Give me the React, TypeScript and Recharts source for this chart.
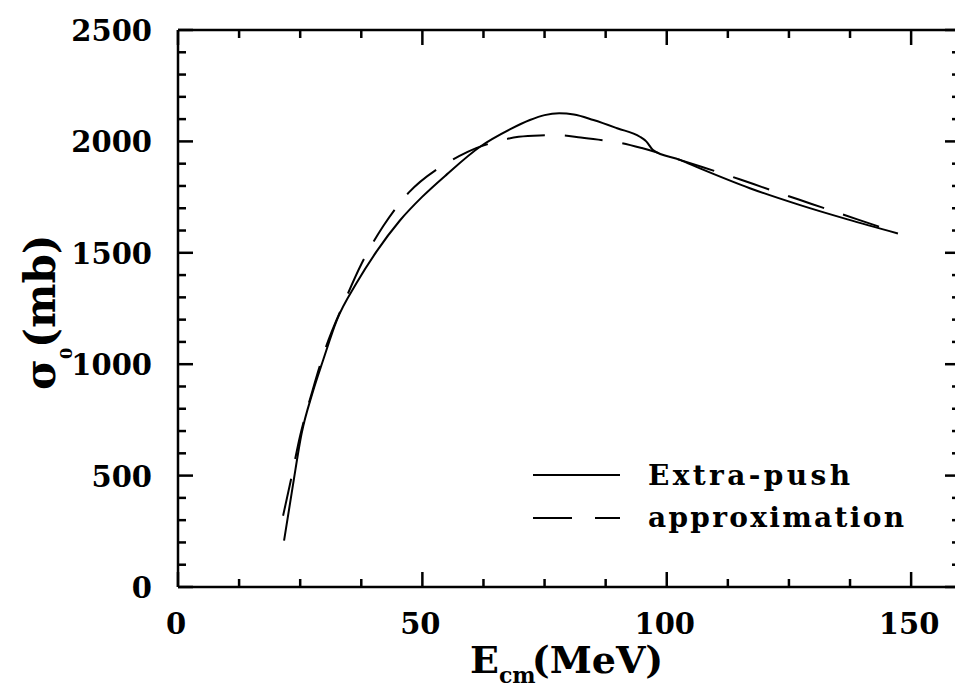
import { LineChart, Line, XAxis, YAxis, Legend } from "recharts";

// Extra-push cross section (solid)
const extraPushEnergy = [21.7, 23.5, 25.3, 27.5, 29.7, 32.5, 36.5, 40.6, 45.4, 50, 55, 61.8, 68, 72, 75, 78, 81, 85, 90, 94.5, 95.8, 97.2, 102.7, 106.8, 117, 127.3, 137, 147.3];
const extraPushSigma = [208, 455, 690, 870, 1019, 1198, 1363, 1505, 1645, 1752, 1852, 1976, 2055, 2096, 2118, 2126, 2121, 2096, 2058, 2021, 2000, 1961, 1917, 1879, 1790, 1714, 1650, 1587];

// approximation (dashed)
const approxEnergy = [21.5, 23, 25, 27.5, 30, 34.2, 37.6, 42, 47.2, 53.6, 57.5, 61, 65.2, 69.7, 74, 77.7, 82.4, 86, 90.4, 94.9, 102.7, 107.4, 114.9, 119.4, 127, 131.6, 139, 147.2];
const approxSigma = [320, 470, 680, 880, 1060, 1288, 1453, 1620, 1770, 1884, 1934, 1970, 1999, 2021, 2027, 2028, 2018, 2008, 1994, 1970, 1917, 1884, 1830, 1796, 1739, 1705, 1650, 1590];

const seriesNames = ["Extra-push", "approximation"];

const xTicks = [0, 12.5, 25, 37.5, 50, 62.5, 75, 87.5, 100, 112.5, 125, 137.5, 150];
const xLabeled = [0, 50, 100, 150];
const yTicks = [0, 100, 200, 300, 400, 500, 600, 700, 800, 900, 1000, 1100, 1200, 1300, 1400, 1500, 1600, 1700, 1800, 1900, 2000, 2100, 2200, 2300, 2400, 2500];
const yLabeled = [0, 500, 1000, 1500, 2000, 2500];

const extraPushData = extraPushEnergy.map((e, i) => ({ energy: e, sigma: extraPushSigma[i] }));
const approxData = approxEnergy.map((e, i) => ({ energy: e, sigma: approxSigma[i] }));

const FONT = "'DejaVu Serif', serif";

function BottomTick({ x, y, payload }: any) {
  const major = xLabeled.includes(payload.value);
  return (
    <g>
      <line x1={x} x2={x} y1={y} y2={y - (major ? 15 : 8)} stroke="#000" strokeWidth={2.5} />
      {major && (
        <text x={x - 2} y={y + 47} textAnchor="middle" fontFamily={FONT} fontWeight="bold" fontSize={29} fill="#000">
          {payload.value}
        </text>
      )}
    </g>
  );
}

function TopTick({ x, y, payload }: any) {
  const major = xLabeled.includes(payload.value);
  return <line x1={x} x2={x} y1={y} y2={y + (major ? 15 : 8)} stroke="#000" strokeWidth={2.5} />;
}

function LeftTick({ x, y, payload }: any) {
  const major = yLabeled.includes(payload.value);
  return (
    <g>
      <line x1={x} x2={x + (major ? 15 : 8)} y1={y} y2={y} stroke="#000" strokeWidth={2.5} />
      {major && (
        <text x={x - 26} y={y + 11} textAnchor="end" fontFamily={FONT} fontWeight="bold" fontSize={29} fill="#000">
          {payload.value}
        </text>
      )}
    </g>
  );
}

function RightTick({ x, y, payload }: any) {
  const major = yLabeled.includes(payload.value);
  return <line x1={x} x2={x - (major ? 15 : 8)} y1={y} y2={y} stroke="#000" strokeWidth={2.5} />;
}

function XTitle({ viewBox }: any) {
  const x = viewBox.x + 292;
  const y = viewBox.y + 86;
  return (
    <text x={x} y={y} fontFamily={FONT} fontWeight="bold" fontSize={38} fill="#000">
      E
      <tspan fontSize={22} dy={10}>cm</tspan>
      <tspan dx={-4} dy={-10}>(MeV)</tspan>
    </text>
  );
}

function YTitle({ viewBox }: any) {
  const x = viewBox.x + viewBox.width - 123;
  const y = viewBox.y + 360;
  return (
    <text x={x} y={y} transform={`rotate(-90 ${x} ${y})`} fontFamily={FONT} fontWeight="bold" fontSize={42} fill="#000">
      σ
      <tspan fontSize={16} dy={17}>0</tspan>
      <tspan dy={-17}>(mb)</tspan>
    </text>
  );
}

function LegendBox() {
  return (
    <svg width={400} height={90}>
      {seriesNames.map((name, i) => (
        <g key={name}>
          <line
            x1={13}
            x2={100}
            y1={20 + i * 43}
            y2={20 + i * 43}
            stroke="#000"
            strokeWidth={2}
            strokeDasharray={i === 1 ? "39 23" : undefined}
          />
          <text
            x={128}
            y={30 + i * 42}
            fontFamily={FONT}
            fontWeight="bold"
            fontSize={28}
            fill="#000"
            textLength={i === 0 ? 202 : 256}
            lengthAdjust="spacing"
          >
            {name}
          </text>
        </g>
      ))}
    </svg>
  );
}

export default function App() {
  return (
    <div style={{ position: "fixed", top: 0, left: 0, width: 955, height: 691, overflow: "hidden", background: "#fff", fontFamily: FONT }}>
      <LineChart width={970} height={691} margin={{ top: 29, right: 9, bottom: 44, left: 58 }}>
        <XAxis
          dataKey="energy"
          type="number"
          domain={[0, 160]}
          ticks={xTicks}
          interval={0}
          height={60}
          tickSize={0}
          tickMargin={0}
          tickLine={false}
          tick={<BottomTick />}
          axisLine={{ stroke: "#000", strokeWidth: 2.5 }}
          label={<XTitle />}
          allowDataOverflow
        />
        <XAxis
          xAxisId="top"
          orientation="top"
          dataKey="energy"
          type="number"
          domain={[0, 160]}
          ticks={xTicks}
          interval={0}
          height={1}
          tickSize={0}
          tickMargin={0}
          tickLine={false}
          tick={<TopTick />}
          axisLine={{ stroke: "#000", strokeWidth: 2.5 }}
          allowDataOverflow
        />
        <YAxis
          type="number"
          domain={[0, 2500]}
          ticks={yTicks}
          interval={0}
          width={120}
          tickSize={0}
          tickMargin={0}
          tickLine={false}
          tick={<LeftTick />}
          axisLine={{ stroke: "#000", strokeWidth: 2.5 }}
          label={<YTitle />}
          allowDataOverflow
        />
        <YAxis
          yAxisId="right"
          orientation="right"
          type="number"
          domain={[0, 2500]}
          ticks={yTicks}
          interval={0}
          width={1}
          tickSize={0}
          tickMargin={0}
          tickLine={false}
          tick={<RightTick />}
          axisLine={{ stroke: "#000", strokeWidth: 2.5 }}
          allowDataOverflow
        />
        <Legend
          layout="horizontal"
          verticalAlign="middle"
          align="center"
          content={<LegendBox />}
          wrapperStyle={{ left: 520, top: 455, width: 400, height: 90 }}
        />
        <Line
          data={extraPushData}
          dataKey="sigma"
          name={seriesNames[0]}
          type="monotone"
          stroke="#000"
          strokeWidth={2}
          dot={false}
          isAnimationActive={false}
        />
        <Line
          data={approxData}
          dataKey="sigma"
          name={seriesNames[1]}
          type="monotone"
          stroke="#000"
          strokeWidth={2}
          strokeDasharray="38 20"
          dot={false}
          isAnimationActive={false}
        />
      </LineChart>
    </div>
  );
}
